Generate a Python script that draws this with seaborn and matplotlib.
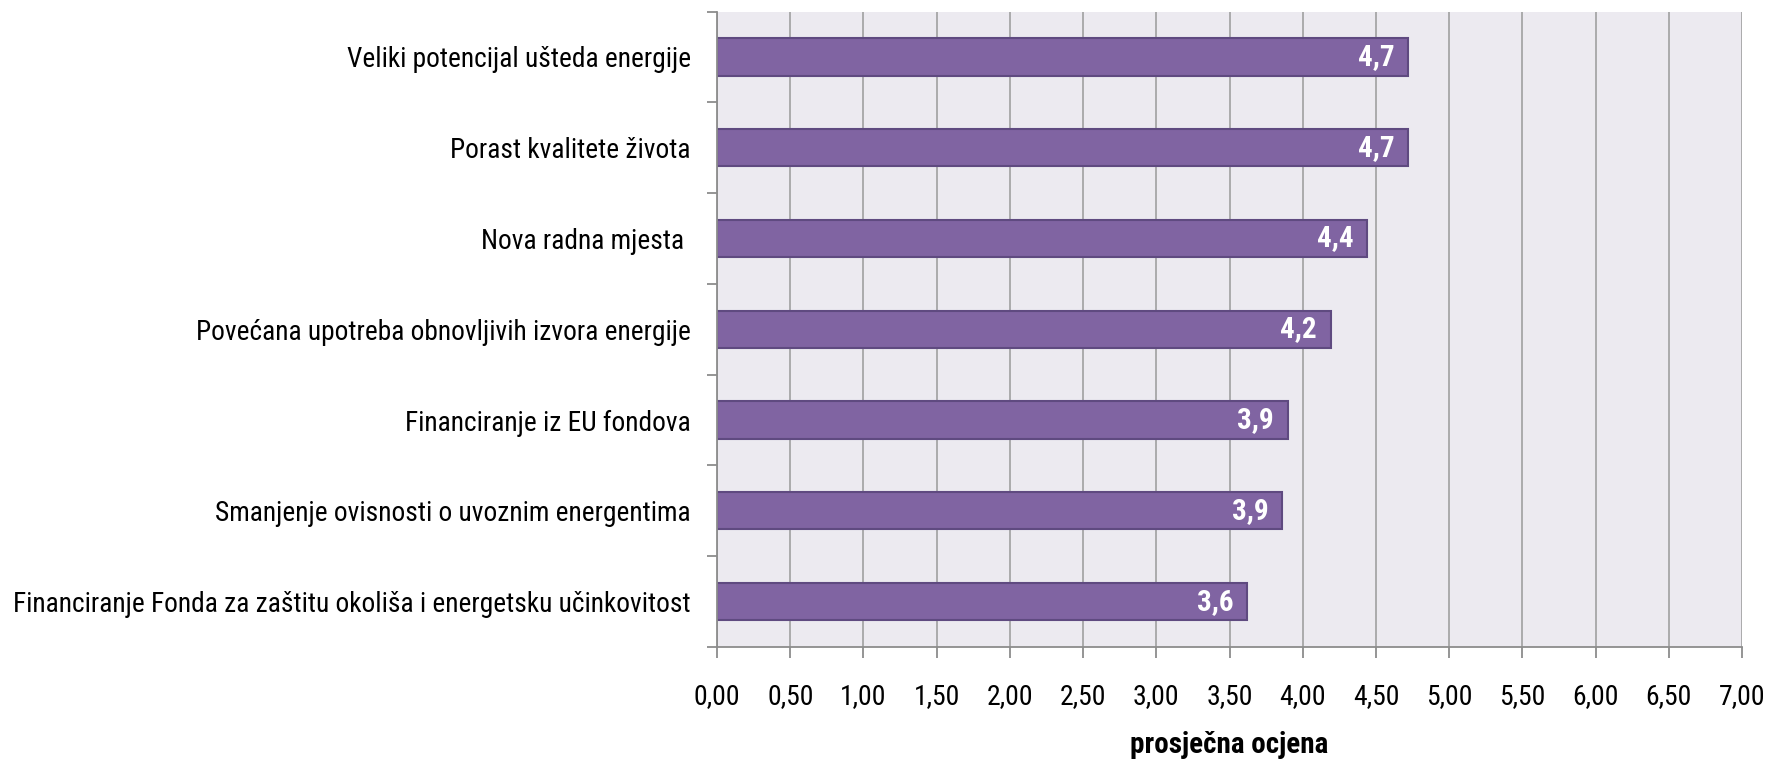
import matplotlib
matplotlib.use("Agg")
import matplotlib.pyplot as plt
import seaborn as sns
import pandas as pd
import numpy as np
from matplotlib import font_manager

categories = [
    "Veliki potencijal ušteda energije",
    "Porast kvalitete života",
    "Nova radna mjesta ",
    "Povećana upotreba obnovljivih izvora energije",
    "Financiranje iz EU fondova",
    "Smanjenje ovisnosti o uvoznim energentima",
    "Financiranje Fonda za zaštitu okoliša i energetsku učinkovitost",
]
values = [4.72, 4.72, 4.44, 4.19, 3.90, 3.86, 3.62]
x_ticks = [0.0, 0.5, 1.0, 1.5, 2.0, 2.5, 3.0, 3.5, 4.0, 4.5, 5.0, 5.5, 6.0, 6.5, 7.0]
x_label = "prosječna ocjena"

sns.set_theme(style="darkgrid")
names = {f.name for f in font_manager.fontManager.ttflist}
candidates = ["Liberation Sans Narrow", "Roboto Condensed", "Open Sans Condensed",
              "Noto Sans Condensed", "Arial Narrow", "Roboto", "Liberation Sans", "DejaVu Sans"]
family = next(c for c in candidates if c in names)
plt.rcParams["font.family"] = [family, "DejaVu Sans"]

fig = plt.figure(figsize=(17.74, 7.63), dpi=100)
fig.patch.set_facecolor("white")
ax = fig.add_axes([0.4042, 0.1520, 0.5778, 0.8329])
ax.set_facecolor("#ECEAF0")

df = pd.DataFrame({"cat": categories, "val": values})
sns.barplot(data=df, y="cat", x="val", orient="h", color="#8064A2",
            edgecolor="#5F4A80", linewidth=1.5, width=0.41, saturation=1, ax=ax)

ax.set_xlim(0, 7)
ax.set_ylim(6.5, -0.5)
ax.set_xticks(x_ticks)
ax.set_xticklabels([f"{v:.2f}".replace(".", ",") for v in x_ticks])
ax.set_yticks(np.arange(-0.5, 7.0, 1.0), minor=True)

ax.grid(False)
ax.grid(axis="x", which="major", color="#A6A6A6", linewidth=1.3)
ax.set_axisbelow(True)

for s in ["top", "right"]:
    ax.spines[s].set_visible(False)
for s in ["left", "bottom"]:
    ax.spines[s].set_visible(True)
    ax.spines[s].set_color("#8C8C8C")
    ax.spines[s].set_linewidth(1.3)

# size category labels so the longest one spans about the same width as the reference
renderer = fig.canvas.get_renderer()
probe = fig.text(0, 0, max(categories, key=len), fontsize=22)
w = probe.get_window_extent(renderer).width
probe.remove()
cat_size = min(24.0, 22.0 * 676.0 / w)

ax.tick_params(axis="y", which="major", length=0, pad=19, labelsize=cat_size, labelcolor="black")
ax.tick_params(axis="y", which="minor", length=7.5, width=1.3, color="#8C8C8C", left=True)
ax.tick_params(axis="x", which="major", length=8, width=1.3, color="#8C8C8C", bottom=True,
               pad=18, labelsize=20, labelcolor="black")

ax.set_ylabel("")
ax.set_xlabel(x_label, fontsize=21, fontweight="bold", labelpad=15, color="black")

for p, v in zip(ax.patches, values):
    ax.annotate(f"{v:.1f}".replace(".", ","),
                xy=(p.get_x() + p.get_width(), p.get_y() + p.get_height() / 2),
                xytext=(-10, 0), textcoords="offset points",
                ha="right", va="center", color="white", fontweight="bold", fontsize=21)

fig.savefig("out.png", dpi=100, facecolor="white")
